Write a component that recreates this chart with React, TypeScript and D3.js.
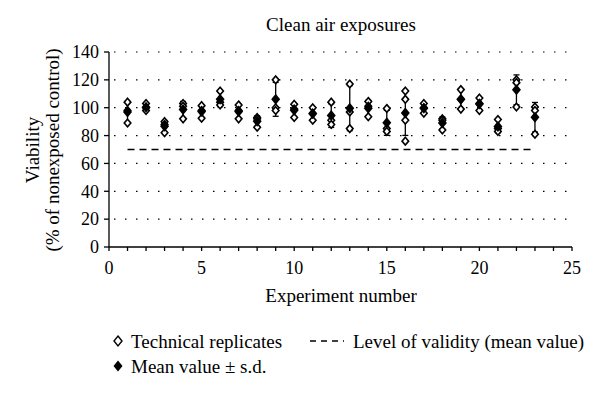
import React from "react";
import * as d3 from "d3";

const experiments = [1,2,3,4,5,6,7,8,9,10,11,12,13,14,15,16,17,18,19,20,21,22,23];
const replicates: number[][] = [
  [104, 98, 89],
  [103, 100, 98],
  [90, 88, 82],
  [103, 101, 92],
  [101.5, 98, 92.5],
  [112, 104, 102],
  [102, 98, 92],
  [93, 92, 86],
  [120, 100, 98],
  [102.5, 99, 93],
  [100, 96, 91],
  [104, 91, 88],
  [117, 97, 85],
  [104.5, 101, 93.5],
  [99.5, 85, 83],
  [112, 106, 91, 76],
  [103, 100, 96],
  [92, 91, 84],
  [113, 106, 99],
  [107, 103, 98],
  [91.5, 85, 83],
  [120, 118, 100.5],
  [100.5, 98, 81],
];
const validityLevel = 70;
const validityRange = [1, 23];
const xTicks = [0, 5, 10, 15, 20, 25];
const yTicks = [0, 20, 40, 60, 80, 100, 120, 140];

const title = "Clean air exposures";
const xTitle = "Experiment number";
const yTitle1 = "Viability";
const yTitle2 = "(% of nonexposed control)";

const FONT = "'Liberation Serif', 'Times New Roman', serif";

function diamond(cx: number, cy: number, hw: number, hh: number) {
  return `M${cx},${cy - hh}L${cx + hw},${cy}L${cx},${cy + hh}L${cx - hw},${cy}Z`;
}

export default function App() {
  const W = 600, H = 398;
  const x = d3.scaleLinear().domain([0, 25]).range([109, 572]);
  const y = d3.scaleLinear().domain([0, 140]).range([247, 52]);
  const stats = replicates.map((r) => ({ mean: d3.mean(r) as number, sd: d3.deviation(r) as number }));
  const minorX = d3.range(0, 26);

  return (
    <svg width={W} height={H} style={{ position: "absolute", left: 0, top: 0, background: "#fff" }} fontFamily={FONT}>
      <rect width={W} height={H} fill="#fff" />
      <text x={341} y={31} textAnchor="middle" fontSize={19}>{title}</text>
      {/* gridlines */}
      {yTicks.filter((t) => t > 0).map((t) => (
        <line key={"g" + t} x1={x(0) + 5} x2={x(25)} y1={y(t)} y2={y(t)} stroke="#000" strokeWidth={1.2} strokeDasharray="1.5,9.5" />
      ))}
      {/* y axis */}
      <line x1={x(0)} x2={x(0)} y1={y(0)} y2={y(140)} stroke="#000" strokeWidth={1.3} />
      {yTicks.map((t) => (
        <g key={"y" + t}>
          <line x1={x(0) - 5} x2={x(0)} y1={y(t)} y2={y(t)} stroke="#000" strokeWidth={1.3} />
          <text x={x(0) - 10} y={y(t)} dy="0.35em" textAnchor="end" fontSize={18}>{t}</text>
        </g>
      ))}
      {/* x axis */}
      <line x1={x(0)} x2={x(25)} y1={y(0)} y2={y(0)} stroke="#000" strokeWidth={1.3} />
      {minorX.map((t) => (
        <line key={"xt" + t} x1={x(t)} x2={x(t)} y1={y(0)} y2={y(0) + 4} stroke="#000" strokeWidth={1.3} />
      ))}
      {xTicks.map((t) => (
        <text key={"xl" + t} x={x(t)} y={y(0) + 21} dy="0.35em" textAnchor="middle" fontSize={18}>{t}</text>
      ))}
      <text x={341} y={295} dy="0.35em" textAnchor="middle" fontSize={19}>{xTitle}</text>
      <text transform={`translate(39,150) rotate(-90)`} textAnchor="middle" fontSize={19}>{yTitle1}</text>
      <text transform={`translate(59,150) rotate(-90)`} textAnchor="middle" fontSize={19}>{yTitle2}</text>
      {/* validity line */}
      <line x1={x(validityRange[0])} x2={x(validityRange[1])} y1={y(validityLevel)} y2={y(validityLevel)} stroke="#000" strokeWidth={1.4} strokeDasharray="7,5" />
      {/* error bars */}
      {experiments.map((e, i) => {
        const s = stats[i];
        const cx = x(e);
        return (
          <g key={"eb" + e} stroke="#000" strokeWidth={1.3}>
            <line x1={cx} x2={cx} y1={y(s.mean + s.sd)} y2={y(s.mean - s.sd)} />
            <line x1={cx - 3} x2={cx + 3} y1={y(s.mean + s.sd)} y2={y(s.mean + s.sd)} />
            <line x1={cx - 3} x2={cx + 3} y1={y(s.mean - s.sd)} y2={y(s.mean - s.sd)} />
          </g>
        );
      })}
      {/* replicates */}
      {experiments.map((e, i) =>
        replicates[i].map((v, j) => (
          <path key={`r${e}-${j}`} d={diamond(x(e), y(v), 3.3, 3.8)} fill="#fff" stroke="#000" strokeWidth={1.6} />
        ))
      )}
      {/* means */}
      {experiments.map((e, i) => (
        <path key={"m" + e} d={diamond(x(e), y(stats[i].mean), 4.5, 5.5)} fill="#000" />
      ))}
      {/* legend */}
      <path d={diamond(118, 341, 4, 5)} fill="#fff" stroke="#000" strokeWidth={1.4} />
      <text x={131} y={341} dy="0.35em" fontSize={19}>Technical replicates</text>
      <line x1={310} x2={344} y1={341} y2={341} stroke="#000" strokeWidth={1.3} strokeDasharray="6,5" />
      <text x={353} y={341} dy="0.35em" fontSize={19}>Level of validity (mean value)</text>
      <path d={diamond(118, 366, 4.5, 5.5)} fill="#000" />
      <text x={131} y={366} dy="0.35em" fontSize={19}>Mean value ± s.d.</text>
    </svg>
  );
}
